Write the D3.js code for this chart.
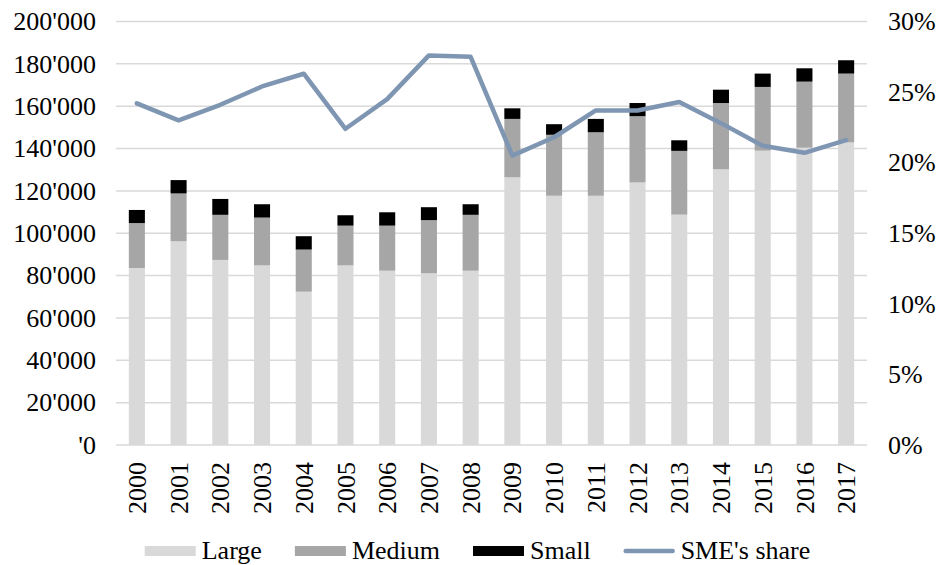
<!DOCTYPE html>
<html>
<head>
<meta charset="utf-8">
<script src="https://cdn.jsdelivr.net/npm/d3@7"></script>
</head>
<body style="margin:0;padding:0;background:#fff">
<svg id="chart" width="938" height="565" style="display:block"></svg>
<script>
// ---- data ----
const years = ["2000","2001","2002","2003","2004","2005","2006","2007","2008",
               "2009","2010","2011","2012","2013","2014","2015","2016","2017"];
const large  = [83.6, 96.2, 87.4, 84.8, 72.4, 84.8, 82.3, 81.1, 82.3,
                126.4, 117.7, 117.7, 124.0, 108.8, 130.2, 139.0, 140.4, 142.9].map(v => v * 1000);
const medium = [21.2, 22.6, 21.3, 22.6, 19.9, 18.8, 21.3, 25.1, 26.4,
                27.6, 28.8, 30.0, 31.3, 30.1, 31.3, 30.1, 31.2, 32.5].map(v => v * 1000);
const small  = [6.2, 6.3, 7.5, 6.3, 6.3, 4.9, 6.3, 6.1, 5.0,
                5.0, 5.0, 6.3, 6.2, 5.0, 6.3, 6.3, 6.3, 6.3].map(v => v * 1000);
const smeShare = [24.2, 23.0, 24.1, 25.4, 26.3, 22.4, 24.5, 27.6, 27.5,
                  20.5, 21.8, 23.7, 23.7, 24.3, 22.8, 21.2, 20.7, 21.6];
const leftTicks  = [0, 20000, 40000, 60000, 80000, 100000, 120000, 140000, 160000, 180000, 200000];
const rightTicks = [0, 5, 10, 15, 20, 25, 30];
const seriesNames = ["Large", "Medium", "Small"];
const lineName = "SME's share";

// ---- layout ----
const FONT = "'Liberation Serif'";
const colors = { Large: "#d9d9d9", Medium: "#a6a6a6", Small: "#000000" };
const lineColor = "#7f96b2";
const plot = { left: 116, right: 867, top: 21.5, bottom: 445 };

const svg = d3.select("#chart");
const styleText = sel => sel.style("font-family", FONT).style("font-size", "26px").style("fill", "#000");

const x = d3.scaleBand().domain(years).range([plot.left, plot.right])
  .paddingInner(0.615).paddingOuter(0.3075);
const y = d3.scaleLinear().domain([0, 200000]).range([plot.bottom, plot.top]);
const y2 = d3.scaleLinear().domain([0, 30]).range([plot.bottom, plot.top]);

// gridlines
svg.append("g").selectAll("line").data(leftTicks).join("line")
  .attr("x1", plot.left).attr("x2", plot.right)
  .attr("y1", d => y(d)).attr("y2", d => y(d))
  .attr("stroke", "#d9d9d9").attr("stroke-width", 1.5);

// stacked bars
const rows = years.map((yr, i) => ({ year: yr, Large: large[i], Medium: medium[i], Small: small[i] }));
const stack = d3.stack().keys(seriesNames)(rows);
svg.append("g").selectAll("g").data(stack).join("g")
  .attr("fill", d => colors[d.key])
  .selectAll("rect").data(d => d).join("rect")
  .attr("x", d => x(d.data.year))
  .attr("width", x.bandwidth())
  .attr("y", d => y(d[1]))
  .attr("height", d => y(d[0]) - y(d[1]));

// line
const line = d3.line()
  .x((d, i) => x(years[i]) + x.bandwidth() / 2)
  .y(d => y2(d));
svg.append("path").datum(smeShare)
  .attr("d", line)
  .attr("fill", "none")
  .attr("stroke", lineColor)
  .attr("stroke-width", 4.5)
  .attr("stroke-linejoin", "round")
  .attr("stroke-linecap", "round");

// left axis labels
const fmtLeft = v => (v === 0 ? "'0" : Math.floor(v / 1000) + "'000");
const leftAxis = d3.axisLeft(y).tickValues(leftTicks).tickFormat(fmtLeft).tickSize(0).tickPadding(20);
const gl = svg.append("g").attr("transform", `translate(${plot.left},0)`).call(leftAxis);
gl.select(".domain").remove();
styleText(gl.selectAll("text"));

// right axis labels
const rightAxis = d3.axisRight(y2).tickValues(rightTicks).tickFormat(d => d + "%").tickSize(0).tickPadding(21);
const gr = svg.append("g").attr("transform", `translate(${plot.right},0)`).call(rightAxis);
gr.select(".domain").remove();
styleText(gr.selectAll("text"));

// x axis labels (rotated)
const xAxis = d3.axisBottom(x).tickSize(0).tickPadding(0);
const gx = svg.append("g").attr("transform", `translate(0,${plot.bottom})`).call(xAxis);
gx.select(".domain").remove();
styleText(gx.selectAll("text"))
  .attr("text-anchor", "end")
  .attr("transform", "rotate(-90)")
  .attr("x", -17).attr("y", 0).attr("dy", "0.35em");

// legend
const legendItems = seriesNames.map(n => ({ name: n, type: "rect" })).concat([{ name: lineName, type: "line" }]);
const legend = svg.append("g");
const swW = 51, swGap = 6, itemGap = 33, legY = 551;
let cx = 0;
const items = legend.selectAll("g").data(legendItems).join("g");
items.each(function(d) {
  const g = d3.select(this);
  if (d.type === "rect") {
    g.append("rect").attr("x", 0).attr("y", -5).attr("width", swW).attr("height", 10).attr("fill", colors[d.name]);
  } else {
    g.append("line").attr("x1", 2).attr("x2", swW - 2).attr("y1", 0).attr("y2", 0)
      .attr("stroke", lineColor).attr("stroke-width", 4.5).attr("stroke-linecap", "round");
  }
  const t = styleText(g.append("text")).attr("x", swW + swGap).attr("y", 0).attr("dy", "0.32em").text(d.name);
  const w = t.node().getComputedTextLength();
  g.attr("transform", `translate(${cx},${legY})`);
  cx += swW + swGap + w + itemGap;
});
const totalW = cx - itemGap;
legend.attr("transform", `translate(${(143 + 812) / 2 - totalW / 2},0)`);
</script>
</body>
</html>
